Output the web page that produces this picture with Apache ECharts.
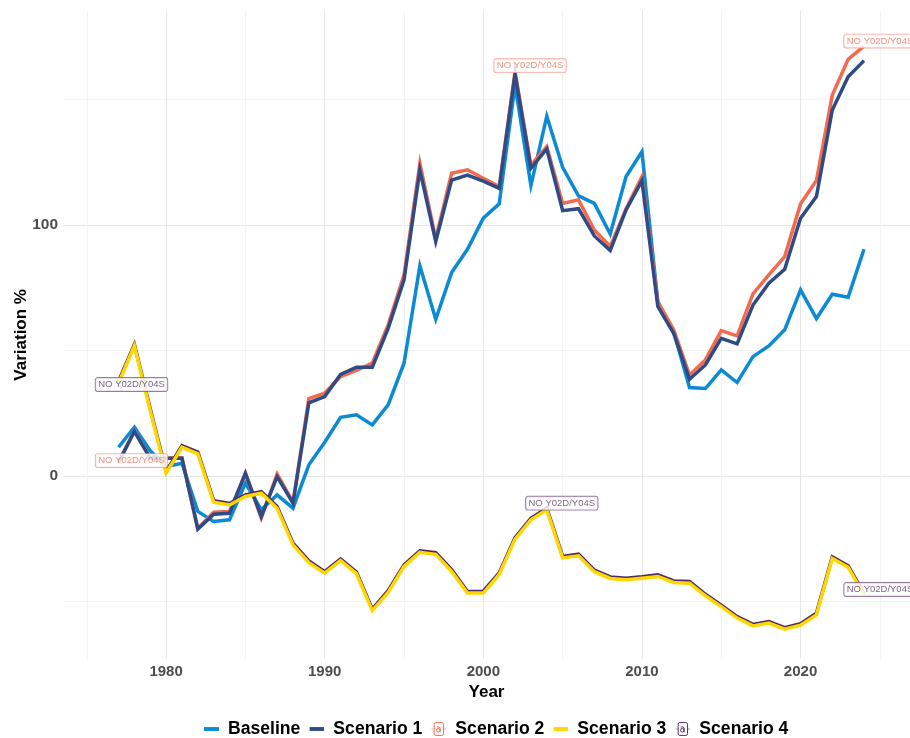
<!DOCTYPE html>
<html>
<head>
<meta charset="utf-8">
<script src="https://cdn.jsdelivr.net/npm/echarts@6/dist/echarts.min.js"></script>
<style>
html,body{margin:0;padding:0;background:#fff;}
#chart{width:910px;height:738px;}
</style>
</head>
<body>
<div id="chart"></div>
<script>
// ---------- data ----------
const years = [1977,1978,1979,1980,1981,1982,1983,1984,1985,1986,1987,1988,1989,1990,1991,1992,1993,1994,1995,1996,1997,1998,1999,2000,2001,2002,2003,2004,2005,2006,2007,2008,2009,2010,2011,2012,2013,2014,2015,2016,2017,2018,2019,2020,2021,2022,2023,2024];

const baseline = [11.4,19.4,10.0,3.7,5.0,-14.2,-18.2,-17.5,-2.9,-13.5,-7.6,-12.9,4.4,13.4,23.3,24.3,20.3,28.3,44.9,83.7,62.4,81.0,90.3,102.7,108.4,155.8,115.7,143.3,123.0,111.6,108.6,96.4,119.3,129.2,69.5,57.5,35.2,34.8,42.2,37.2,47.5,51.8,58.2,74.1,62.7,72.4,71.2,90.3];

const scenario1 = [5.3,17.7,7.0,7.0,7.0,-21.2,-15.3,-14.9,1.1,-16.2,-0.3,-10.9,29.1,31.6,40.4,43.3,43.3,58.8,78.1,121.9,93.4,117.9,119.9,117.5,114.6,160.2,122.6,130.3,105.7,106.5,95.6,89.8,106.0,117.7,67.5,56.8,38.5,44.2,54.8,52.6,68.1,76.8,82.3,102.7,111.3,145.8,159.1,165.5];

const scenario2 = [5.3,17.9,7.2,7.0,7.2,-21.0,-14.5,-14.2,1.0,-16.8,0.8,-10.5,30.8,33.0,39.6,42.0,44.9,60.2,80.1,124.6,94.5,120.6,122.0,118.6,115.3,161.1,123.8,131.2,108.6,110.0,98.0,91.4,106.5,119.2,69.5,58.2,40.2,46.2,57.9,55.8,72.5,80.1,87.4,108.4,117.7,151.8,166.0,171.3];

const scenario3 = [36.9,51.8,26.0,1.1,11.4,8.8,-10.5,-11.6,-8.2,-6.9,-12.9,-27.5,-34.6,-38.8,-33.7,-39.0,-53.7,-46.5,-36.1,-30.5,-31.3,-38.1,-46.7,-46.7,-39.3,-25.2,-17.5,-13.5,-32.7,-31.9,-38.2,-40.9,-41.4,-40.8,-40.1,-42.5,-42.8,-47.8,-52.1,-56.7,-59.8,-58.7,-61.1,-59.5,-55.4,-32.9,-36.4,-47.4];

const scenario4 = [37.6,52.4,26.7,1.7,12.0,9.5,-9.9,-11.0,-7.6,-6.3,-12.2,-26.8,-33.9,-38.2,-33.1,-38.4,-53.1,-45.8,-35.5,-29.9,-30.6,-37.4,-46.1,-46.0,-38.7,-24.6,-16.9,-12.9,-32.1,-31.2,-37.6,-40.3,-40.8,-40.2,-39.4,-41.9,-42.1,-47.2,-51.5,-56.1,-59.2,-58.1,-60.5,-58.9,-54.8,-32.3,-35.8,-46.9];

const seriesNames = ['Baseline','Scenario 1','Scenario 2','Scenario 3','Scenario 4'];
const labelText = 'NO Y02D/Y04S';
const s2LabelYears = [1977, 2002, 2024];
const s4LabelYears = [1977, 2004, 2024];

const xLabelTicks = [1980,1990,2000,2010,2020];
const xGridTicks = [1975,1980,1985,1990,1995,2000,2005,2010,2015,2020,2025];
const yLabelTicks = [0,100];
const yGridTicks = [-50,0,50,100,150];

// ---------- styles ----------
const FONT = '"Liberation Sans", Arial, Helvetica, sans-serif';
const C = {
  base: '#0A8BD3',
  s1: '#2E4A87',
  s2: '#F26B4F',
  s3: '#FFD700',
  s4: '#4E2A63'
};
const s2LabelOffsets = [[13,-2],[15,-6],[16,-5]];
const s4LabelOffsets = [[13,3],[15,-5],[16,-4]];

function pairs(vals){ return years.map((y,i)=>[y, vals[i]]); }

function svgIcon(inner){
  const svg = '<svg xmlns="http://www.w3.org/2000/svg" width="28" height="28" viewBox="0 0 14 14">' + inner + '</svg>';
  return 'image://data:image/svg+xml;charset=utf-8,' + encodeURIComponent(svg);
}
function lineIcon(col){
  return svgIcon('<rect x="0" y="5.2" width="14" height="3.6" fill="' + col + '"/>');
}
function labelIcon(col){
  return svgIcon(
    '<line x1="0" y1="7" x2="14" y2="7" stroke="' + col + '" stroke-opacity="0.45" stroke-width="1"/>' +
    '<rect x="2.6" y="1" width="8.8" height="12" rx="1.6" fill="#fff" stroke="' + col + '" stroke-width="0.9"/>' +
    '<circle cx="6.5" cy="8.2" r="1.7" fill="none" stroke="' + col + '" stroke-width="0.9"/>' +
    '<path d="M5.1 5.2 Q7.7 4.2 8.2 6.2 L8.2 10" fill="none" stroke="' + col + '" stroke-width="0.9"/>'
  );
}

function lineSeries(name, vals, col, z){
  return {
    name: name, type: 'line', data: pairs(vals),
    showSymbol: false, symbol: 'none',
    lineStyle: { width: 3.5, color: col, join: 'miter' },
    itemStyle: { color: col },
    z: z, silent: true, animation: false,
    emphasis: { disabled: true }
  };
}

function labelSeries(name, vals, labelYears, offsets, col, textCol, borderCol){
  return {
    name: name, type: 'scatter', z: 20, silent: true, animation: false,
    symbolSize: 1, itemStyle: { color: 'rgba(0,0,0,0)' },
    data: labelYears.map((y, k) => ({
      value: [y, vals[years.indexOf(y)]],
      label: {
        show: true, position: 'inside', offset: offsets[k],
        formatter: labelText,
        fontFamily: FONT, fontSize: 9.5, color: textCol,
        backgroundColor: '#fff', borderColor: borderCol, borderWidth: 0.9,
        borderRadius: 2, padding: [2, 2.5, 1, 2.5]
      }
    }))
  };
}

const chart = echarts.init(document.getElementById('chart'), null, { renderer: 'canvas' });

const option = {
  backgroundColor: '#fff',
  animation: false,
  grid: { left: 63, right: 0, top: 10.7, bottom: 79, containLabel: false, outerBoundsMode: 'none' },
  xAxis: {
    type: 'value', min: 1973.5, max: 2026.9,
    name: 'Year', nameLocation: 'middle', nameGap: 24.5, nameMoveOverlap: false,
    nameTextStyle: { fontFamily: FONT, fontWeight: 'bold', fontSize: 17, color: '#000' },
    axisLine: { show: false },
    axisTick: { show: false, customValues: xGridTicks },
    axisLabel: { customValues: xLabelTicks, formatter: v => String(v), margin: 5, fontFamily: FONT, fontWeight: 'bold', fontSize: 15, color: '#4D4D4D' },
    splitLine: { show: true, lineStyle: { color: ['#F3F3F3', '#E6E6E6'], width: 1 } }
  },
  yAxis: {
    type: 'value', min: -73, max: 185.4,
    name: 'Variation %', nameLocation: 'middle', nameGap: 33.5, nameRotate: 90, nameMoveOverlap: false,
    nameTextStyle: { fontFamily: FONT, fontWeight: 'bold', fontSize: 17, color: '#000' },
    axisLine: { show: false },
    axisTick: { show: false, customValues: yGridTicks },
    axisLabel: { customValues: yLabelTicks, formatter: v => String(v), margin: 5, fontFamily: FONT, fontWeight: 'bold', fontSize: 15.5, color: '#4D4D4D' },
    splitLine: { show: true, lineStyle: { color: ['#F3F3F3', '#E6E6E6'], width: 1 } }
  },
  legend: {
    left: 199, top: 715,
    itemWidth: 15, itemHeight: 15, itemGap: 9,
    selectedMode: false,
    textStyle: { fontFamily: FONT, fontWeight: 'bold', fontSize: 17.6, color: '#000', padding: [0, 0, 0, 4] },
    data: [
      { name: seriesNames[0], icon: lineIcon(C.base) },
      { name: seriesNames[1], icon: lineIcon(C.s1) },
      { name: seriesNames[2], icon: labelIcon(C.s2) },
      { name: seriesNames[3], icon: lineIcon(C.s3) },
      { name: seriesNames[4], icon: labelIcon(C.s4) }
    ]
  },
  series: [
    lineSeries(seriesNames[0], baseline, C.base, 2),
    lineSeries(seriesNames[2], scenario2, C.s2, 3),
    lineSeries(seriesNames[1], scenario1, C.s1, 4),
    lineSeries(seriesNames[4], scenario4, C.s4, 5),
    lineSeries(seriesNames[3], scenario3, C.s3, 6),
    labelSeries('lab2', scenario2, s2LabelYears, s2LabelOffsets, C.s2, '#F0735A', '#F49A88'),
    labelSeries('lab4', scenario4, s4LabelYears, s4LabelOffsets, C.s4, '#5B3868', '#7A5A88')
  ]
};
chart.setOption(option);
</script>
</body>
</html>
